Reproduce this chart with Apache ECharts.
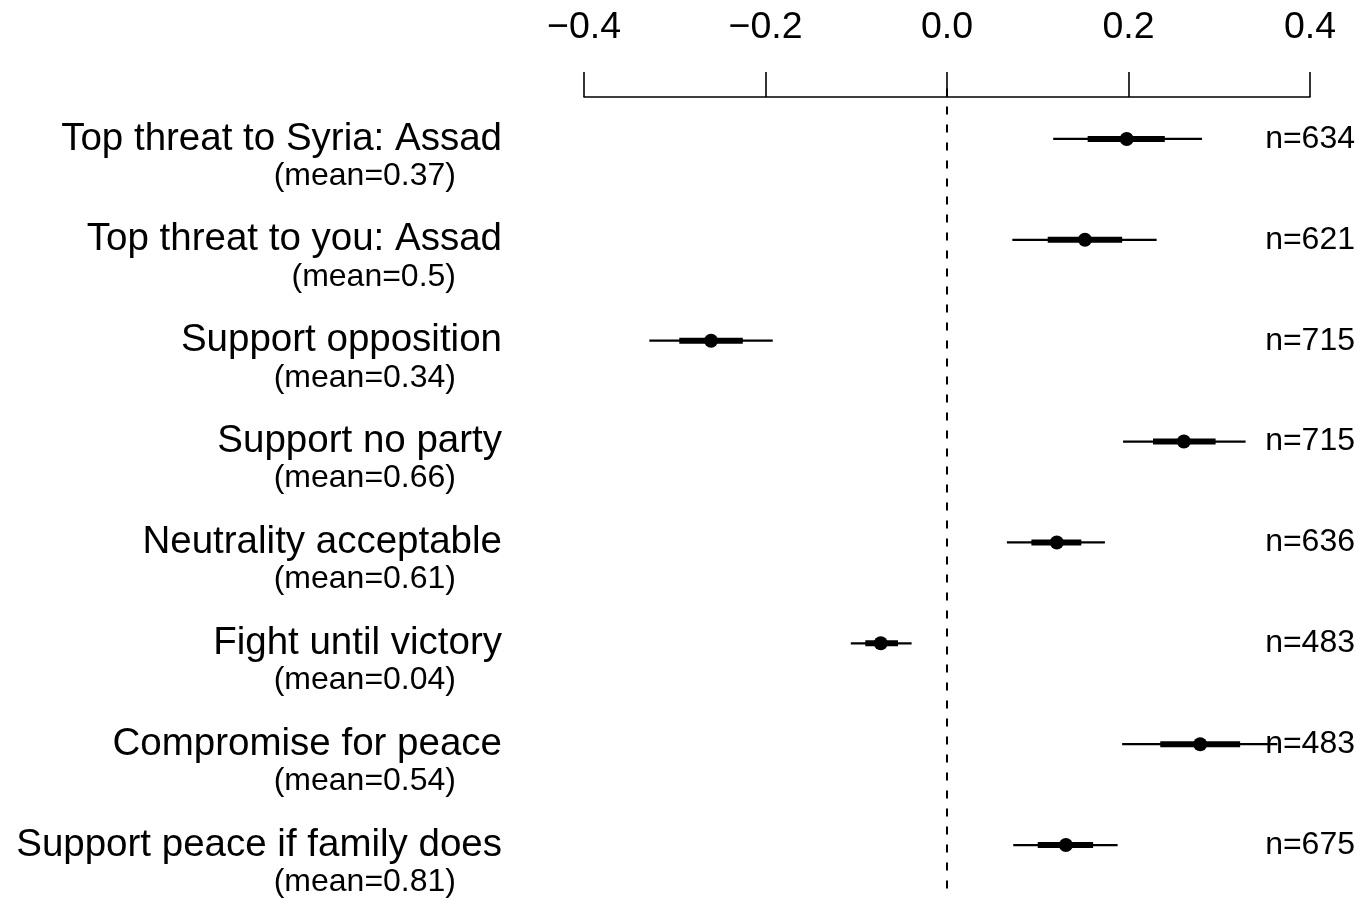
<!DOCTYPE html>
<html>
<head>
<meta charset="utf-8">
<script src="https://cdn.jsdelivr.net/npm/echarts@6/dist/echarts.min.js"></script>
<style>
  html, body { margin: 0; padding: 0; background: #ffffff; }
  #chart { width: 1371px; height: 903px; }
</style>
</head>
<body>
<div id="chart"></div>
<script>
// ---- data ----
var categories = [
  'Top threat to Syria: Assad',
  'Top threat to you: Assad',
  'Support opposition',
  'Support no party',
  'Neutrality acceptable',
  'Fight until victory',
  'Compromise for peace',
  'Support peace if family does'
];
var meanLabels = ['0.37', '0.5', '0.34', '0.66', '0.61', '0.04', '0.54', '0.81'];
var nValues = [634, 621, 715, 715, 636, 483, 483, 675];
var estimates = [0.198, 0.152, -0.260, 0.261, 0.121, -0.073, 0.279, 0.131];
var outerLow  = [0.117, 0.072, -0.328, 0.194, 0.066, -0.106, 0.193, 0.073];
var outerHigh = [0.281, 0.231, -0.192, 0.329, 0.174, -0.039, 0.364, 0.188];
var innerLow  = [0.155, 0.111, -0.295, 0.227, 0.093, -0.090, 0.235, 0.100];
var innerHigh = [0.240, 0.193, -0.225, 0.296, 0.148, -0.054, 0.323, 0.161];
var xTicks = [-0.4, -0.2, 0.0, 0.2, 0.4];

// ---- build ----
var FONT = '"Liberation Sans", Arial, Helvetica, sans-serif';
var seriesData = categories.map(function (c, i) {
  return [i, estimates[i], outerLow[i], outerHigh[i], innerLow[i], innerHigh[i]];
});

function renderItem(params, api) {
  var i = api.value(0);
  var est = api.coord([api.value(1), i]);
  var oLo = api.coord([api.value(2), i]);
  var oHi = api.coord([api.value(3), i]);
  var iLo = api.coord([api.value(4), i]);
  var iHi = api.coord([api.value(5), i]);
  return {
    type: 'group',
    children: [
      { type: 'line', shape: { x1: oLo[0], y1: oLo[1], x2: oHi[0], y2: oHi[1] },
        style: { stroke: '#000', lineWidth: 2.2 } },
      { type: 'line', shape: { x1: iLo[0], y1: iLo[1], x2: iHi[0], y2: iHi[1] },
        style: { stroke: '#000', lineWidth: 6 } },
      { type: 'circle', shape: { cx: est[0], cy: est[1], r: 7 },
        style: { fill: '#000' } }
    ]
  };
}

var chart = echarts.init(document.getElementById('chart'), null, { renderer: 'canvas' });
chart.setOption({
  animation: false,
  backgroundColor: '#ffffff',
  grid: { left: 584, right: 61, top: 88.5, bottom: 7.5, containLabel: false },
  xAxis: {
    type: 'value',
    position: 'top',
    offset: -8.5,
    min: xTicks[0],
    max: xTicks[xTicks.length - 1],
    interval: 0.2,
    splitLine: { show: false },
    axisLine: { show: true, lineStyle: { color: '#000', width: 1.6 } },
    axisTick: { show: true, inside: false, length: 25, lineStyle: { color: '#000', width: 1.6 } },
    axisLabel: {
      show: true, margin: 50, color: '#000', fontSize: 37.5, fontFamily: FONT,
      formatter: function (v) {
        var s = Math.abs(v).toFixed(1);
        return v < -1e-9 ? '\u2212' + s : s;
      }
    }
  },
  yAxis: [
    {
      type: 'category',
      inverse: true,
      data: categories,
      axisLine: { show: false },
      axisTick: { show: false },
      splitLine: { show: false },
      axisLabel: {
        show: true,
        interval: 0,
        margin: 82,
        align: 'right',
        padding: [34, 0, 0, 0],
        formatter: function (v, idx) {
          return '{a|' + v + '}\n{b|(mean=' + meanLabels[idx] + ')}';
        },
        rich: {
          a: { fontSize: 38.5, lineHeight: 40, color: '#000', fontFamily: FONT, align: 'right' },
          b: { fontSize: 32, lineHeight: 34, color: '#000', fontFamily: FONT, align: 'right', padding: [0, 46, 0, 0] }
        }
      }
    },
    {
      type: 'category',
      inverse: true,
      position: 'right',
      data: nValues.map(function (n) { return 'n=' + n; }),
      axisLine: { show: false },
      axisTick: { show: false },
      splitLine: { show: false },
      axisLabel: {
        show: true, interval: 0, margin: 45, align: 'right',
        color: '#000', fontSize: 32, fontFamily: FONT
      }
    }
  ],
  series: [
    {
      type: 'custom',
      xAxisIndex: 0,
      yAxisIndex: 0,
      renderItem: renderItem,
      data: seriesData,
      z: 5,
      markLine: {
        silent: true,
        symbol: 'none',
        label: { show: false },
        lineStyle: { color: '#000', width: 2, type: [8, 10] },
        data: [{ xAxis: 0 }]
      }
    }
  ]
});
</script>
</body>
</html>
